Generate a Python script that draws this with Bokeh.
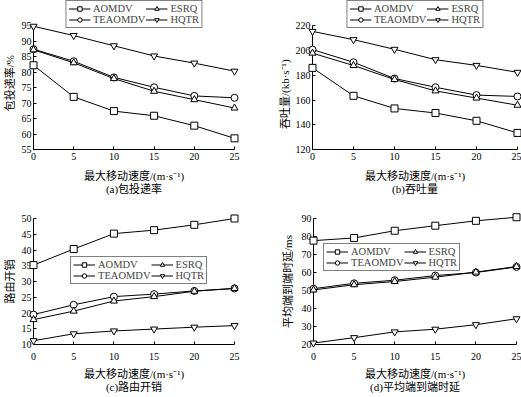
from bokeh.plotting import figure
from bokeh.layouts import row, column
from bokeh.models import Range1d, FixedTicker, Legend, LegendItem
from bokeh.embed import file_html
from bokeh.resources import INLINE

# ---------------- data ----------------
speed = [0, 5, 10, 15, 20, 25]
series_names = ["AOMDV", "TEAOMDV", "ESRQ", "HQTR"]
x_label = "最大移动速度/(m·s⁻¹)"

# (a) packet delivery ratio
pdr_aomdv = [82.2, 72.0, 67.4, 65.9, 62.7, 58.6]
pdr_teaomdv = [87.4, 83.5, 78.3, 75.1, 72.3, 71.7]
pdr_esrq = [87.2, 83.0, 77.9, 73.8, 71.1, 68.4]
pdr_hqtr = [94.8, 91.8, 88.5, 85.2, 82.9, 80.3]
pdr_ticks = [55, 60, 65, 70, 75, 80, 85, 90, 95]

# (b) throughput
thr_aomdv = [186.0, 163.4, 153.2, 149.5, 143.2, 133.4]
thr_teaomdv = [200.8, 190.5, 177.4, 170.3, 164.0, 162.9]
thr_esrq = [197.9, 187.9, 176.6, 167.4, 161.6, 155.8]
thr_hqtr = [215.5, 208.8, 201.0, 192.6, 188.0, 182.4]
thr_ticks = [120, 140, 160, 180, 200, 220]

# (c) routing overhead
ovh_aomdv = [35.2, 40.3, 45.2, 46.3, 48.0, 50.0]
ovh_teaomdv = [19.5, 22.6, 25.2, 26.0, 27.0, 27.8]
ovh_esrq = [17.9, 20.6, 23.8, 25.2, 26.9, 27.8]
ovh_hqtr = [11.2, 13.4, 14.3, 14.9, 15.5, 16.0]
ovh_ticks = [10, 15, 20, 25, 30, 35, 40, 45, 50]

# (d) average end-to-end delay
dly_aomdv = [77.7, 79.2, 83.2, 86.0, 88.7, 90.7]
dly_teaomdv = [51.0, 54.0, 55.7, 58.3, 60.0, 63.1]
dly_esrq = [50.3, 53.2, 55.0, 57.4, 60.2, 63.3]
dly_hqtr = [20.8, 23.8, 27.0, 28.5, 31.0, 34.3]
dly_ticks = [20, 30, 40, 50, 60, 70, 80, 90]

speed_ticks = [0, 5, 10, 15, 20, 25]

NUM_FONT = "Liberation Serif"
CJK_FONT = "Liberation Serif, Noto Sans CJK SC"
MARKERS = ["square", "circle", "triangle", "inverted_triangle"]
EN_SPACE = "\u2002"


def make_panel(width, height, series, yticks, ylabel, title, borders,
               axis_top_px, legend_loc, tick_standoff=3, xlab_standoff=7,
               ylab_standoff=3, ylab_pad=0):
    # borders: left, right, top, bottom (pixels); axis_top_px: pixels between
    # frame top and the highest y tick (room kept for the legend)
    ymin, ymax = yticks[0], yticks[-1]
    frame_h = height - borders[2] - borders[3]
    axis_h = frame_h - axis_top_px
    y_top = ymax + axis_top_px * (ymax - ymin) / axis_h
    p = figure(width=width, height=height, output_backend="svg",
               toolbar_location=None,
               x_range=Range1d(speed_ticks[0], speed_ticks[-1]),
               y_range=Range1d(ymin, y_top),
               min_border_left=borders[0], min_border_right=borders[1],
               min_border_top=borders[2], min_border_bottom=borders[3],
               background_fill_color="white", border_fill_color="white")
    p.outline_line_color = None
    p.xgrid.visible = False
    p.ygrid.visible = False

    items = []
    for name, vals, mk in zip(series_names, series, MARKERS):
        ln = p.line(speed, vals, line_color="black", line_width=1, level="overlay")
        sc = p.scatter(speed, vals, marker=mk, size=7, line_color="black",
                       fill_color="white", line_width=1, level="overlay")
        items.append(LegendItem(label=name, renderers=[ln, sc]))

    xa = p.xaxis[0]
    xa.ticker = FixedTicker(ticks=speed_ticks)
    xa.major_label_standoff = tick_standoff
    xa.axis_label = x_label + "\n" + title
    xa.axis_label_standoff = xlab_standoff
    xa.axis_label_text_line_height = 1.1
    ya = p.yaxis[0]
    ya.ticker = FixedTicker(ticks=yticks)
    ya.bounds = (ymin, ymax)
    ya.major_label_standoff = 2
    # trailing blank room moves the (upward-reading) label down along the axis
    ya.axis_label = ylabel + EN_SPACE * ylab_pad
    ya.axis_label_standoff = ylab_standoff
    for ax in (xa, ya):
        ax.axis_line_color = "black"
        ax.major_tick_in = 3
        ax.major_tick_out = 0
        ax.minor_tick_line_color = None
        ax.major_label_text_font = NUM_FONT
        ax.major_label_text_font_size = "10px"
        ax.major_label_text_color = "black"
        ax.axis_label_text_font = CJK_FONT
        ax.axis_label_text_font_size = "11px"
        ax.axis_label_text_font_style = "normal"
        ax.axis_label_text_color = "black"

    lg = Legend(items=items, location=legend_loc, orientation="vertical",
                nrows=2, label_text_font=NUM_FONT, label_text_font_size="10.5px",
                glyph_width=22, glyph_height=11, label_height=11,
                label_standoff=3, spacing=0, padding=2, margin=0,
                border_line_color="black", border_line_width=1,
                background_fill_color="white", background_fill_alpha=1.0)
    p.add_layout(lg, "center")
    return p


pa = make_panel(260, 197, [pdr_aomdv, pdr_teaomdv, pdr_esrq, pdr_hqtr], pdr_ticks,
                "包投递率/%", "(a)包投递率", (32, 26, 0, 43), 26, "top_center",
                ylab_standoff=3, ylab_pad=3)
pb = make_panel(261, 197, [thr_aomdv, thr_teaomdv, thr_esrq, thr_hqtr], thr_ticks,
                "吞吐量/(kb·s⁻¹)", "(b)吞吐量", (52, 4, 0, 44), 26, "top_center",
                ylab_standoff=2, ylab_pad=7)
pc = make_panel(260, 200, [ovh_aomdv, ovh_teaomdv, ovh_esrq, ovh_hqtr], ovh_ticks,
                "路由开销", "(c)路由开销", (31, 26, 21, 53), 0, (37, 60),
                tick_standoff=8, xlab_standoff=5, ylab_standoff=3)
pd = make_panel(261, 200, [dly_aomdv, dly_teaomdv, dly_esrq, dly_hqtr], dly_ticks,
                "平均端到端时延/ms", "(d)平均端到端时延", (53, 5, 21, 52), 0, (10, 73),
                tick_standoff=8, xlab_standoff=5, ylab_standoff=5)

layout = column(row(pa, pb), row(pc, pd))
open("out.html", "w").write(file_html(layout, INLINE))
